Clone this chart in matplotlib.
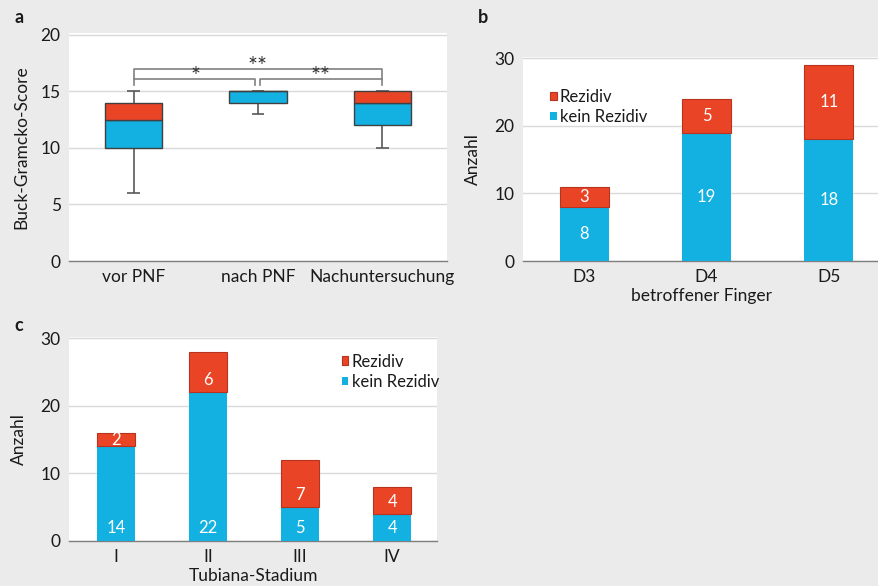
import matplotlib
matplotlib.use("Agg")
import matplotlib.pyplot as plt
import numpy as np

# ------------------------------------------------------------------
# Data
# ------------------------------------------------------------------
# Panel a: Buck-Gramcko score summary (drawn as two-colour boxes)
a_groups = ["vor PNF", "nach PNF", "Nachuntersuchung"]
a_whisker_low = [6, 13, 10]
a_q1 = [10, 14, 12]
a_median = [12.5, 15, 14]
a_q3 = [14, 15, 15]
a_whisker_high = [15, 15, 15]
a_yticks = [0, 5, 10, 15, 20]

# significance brackets: (left group, right group, level, label)
a_sig = [(0, 1, 16.1, "*"), (1, 2, 16.1, "**"), (0, 2, 17.0, "**")]

# Panel b: affected finger
b_cats = ["D3", "D4", "D5"]
b_kein = [8, 19, 18]
b_rezidiv = [3, 5, 11]

# Panel c: Tubiana stage
c_cats = ["I", "II", "III", "IV"]
c_kein = [14, 22, 5, 4]
c_rezidiv = [2, 6, 7, 4]

count_ticks = [0, 10, 20, 30]

# ------------------------------------------------------------------
# Style
# ------------------------------------------------------------------
RED = "#ea4426"
RED_EDGE = "#b8331f"
BLUE = "#12b1e1"
BG = "#ebebeb"
GRID = "#d9d9d9"
TXT = "#1a1a1a"
BRACKET = "#808080"
FS = 12.5

plt.rcParams["font.family"] = ["Lato", "DejaVu Sans"]
plt.rcParams["font.size"] = FS

fig = plt.figure(figsize=(8.79, 5.86), dpi=100, facecolor=BG)


def style_axes(ax, yticks, ymax):
    ax.set_facecolor("white")
    for s in ["top", "right", "left"]:
        ax.spines[s].set_visible(False)
    ax.spines["bottom"].set_color("#7f7f7f")
    ax.spines["bottom"].set_linewidth(1.0)
    ax.set_ylim(0, ymax)
    ax.set_yticks(yticks)
    ax.yaxis.grid(True, color=GRID, linewidth=1.0)
    ax.set_axisbelow(True)
    ax.tick_params(axis="both", length=0, labelsize=FS, colors=TXT, pad=6)


# ------------------------------------------------------------------
# Panel a
# ------------------------------------------------------------------
ax_a = fig.add_axes([0.0785, 0.5546, 0.430, 0.389])
style_axes(ax_a, a_yticks, 20.15)
xa = np.arange(len(a_groups))
box_w = 0.46
q1 = np.array(a_q1)
med = np.array(a_median)
q3 = np.array(a_q3)
ax_a.bar(xa, med - q1, bottom=q1, width=box_w, color=BLUE,
         edgecolor="#404040", linewidth=1.0, zorder=3)
ax_a.bar(xa, q3 - med, bottom=med, width=box_w, color=RED,
         edgecolor="#404040", linewidth=1.0, zorder=3)
# whiskers
ax_a.vlines(xa, a_whisker_low, q1, color="#595959", linewidth=1.2, zorder=2)
ax_a.vlines(xa, q3, a_whisker_high, color="#595959", linewidth=1.2, zorder=2)
cap = 0.05
ax_a.hlines(a_whisker_low, xa - cap, xa + cap, color="#595959", linewidth=1.2, zorder=2)
ax_a.hlines(a_whisker_high, xa - cap, xa + cap, color="#595959", linewidth=1.2, zorder=2)

# significance brackets
gap = 0.02
leg_drop = 0.55
for i, j, lvl, lab in a_sig:
    xl, xr = xa[i], xa[j]
    if j - i == 1:
        if i == 1:
            xl = xl + gap
        if j == 1:
            xr = xr - gap
        bottom = lvl - leg_drop
    else:
        bottom = 16.1
    ax_a.plot([xl, xl, xr, xr], [bottom, lvl, lvl, bottom],
              color=BRACKET, linewidth=1.2, zorder=2)
    ax_a.text((xa[i] + xa[j]) / 2, lvl - 0.75, lab, ha="center", va="bottom",
              fontsize=17, color="#333333")

ax_a.set_xticks(xa)
ax_a.set_xticklabels(a_groups)
ax_a.set_xlim(-0.52, 2.52)
ax_a.set_ylabel("Buck-Gramcko-Score", fontsize=FS, color=TXT, labelpad=8)
fig.text(0.016, 0.970, "a", fontsize=13, fontweight="bold", color=TXT, va="center")


# ------------------------------------------------------------------
# Stacked bar helper for panels b and c
# ------------------------------------------------------------------
def stacked(ax, cats, kein, rez, width, centred_blue, legend_loc):
    x = np.arange(len(cats))
    kein = np.array(kein)
    rez = np.array(rez)
    ax.bar(x, kein, width=width, color=BLUE, linewidth=0, zorder=3,
           label="kein Rezidiv")
    ax.bar(x, rez, bottom=kein, width=width, color=RED, edgecolor=RED_EDGE,
           linewidth=0.8, zorder=3, label="Rezidiv")
    for xi, k, r in zip(x, kein, rez):
        if centred_blue:
            yk = k / 2
            yr = k + r / 2
        else:
            yk = 1.9
            yr = k + min(1.8, r / 2)
        ax.text(xi, yk, str(k), ha="center", va="center", color="white",
                fontsize=12, zorder=4)
        ax.text(xi, yr, str(r), ha="center", va="center", color="white",
                fontsize=12, zorder=4)
    ax.set_xticks(x)
    ax.set_xticklabels(cats)
    handles, labels = ax.get_legend_handles_labels()
    leg = ax.legend(handles[::-1], labels[::-1], frameon=False, fontsize=12,
                    handlelength=0.4, handleheight=0.4, handletextpad=0.2,
                    labelspacing=0.25, borderpad=0, **legend_loc)
    for t in leg.get_texts():
        t.set_color(TXT)
    return x


# ------------------------------------------------------------------
# Panel b
# ------------------------------------------------------------------
ax_b = fig.add_axes([0.595, 0.5546, 0.405, 0.348])
style_axes(ax_b, count_ticks, 30.2)
stacked(ax_b, b_cats, b_kein, b_rezidiv, 0.4, True,
        dict(loc="upper left", bbox_to_anchor=(0.052, 0.885)))
ax_b.set_xlim(-0.5, 2.41)
ax_b.set_ylabel("Anzahl", fontsize=FS, color=TXT, labelpad=10)
ax_b.set_xlabel("betroffener Finger", fontsize=FS, color=TXT, labelpad=2)
fig.text(0.544, 0.970, "b", fontsize=13, fontweight="bold", color=TXT, va="center")

# ------------------------------------------------------------------
# Panel c
# ------------------------------------------------------------------
ax_c = fig.add_axes([0.0785, 0.0768, 0.419, 0.348])
style_axes(ax_c, count_ticks, 30.2)
stacked(ax_c, c_cats, c_kein, c_rezidiv, 0.41, False,
        dict(loc="upper right", bbox_to_anchor=(1.027, 0.96)))
ax_c.set_xlim(-0.51, 3.49)
ax_c.set_ylabel("Anzahl", fontsize=FS, color=TXT, labelpad=10)
ax_c.set_xlabel("Tubiana-Stadium", fontsize=FS, color=TXT, labelpad=2)
fig.text(0.016, 0.445, "c", fontsize=13, fontweight="bold", color=TXT, va="center")

fig.savefig("out.png", dpi=100, facecolor=BG)
